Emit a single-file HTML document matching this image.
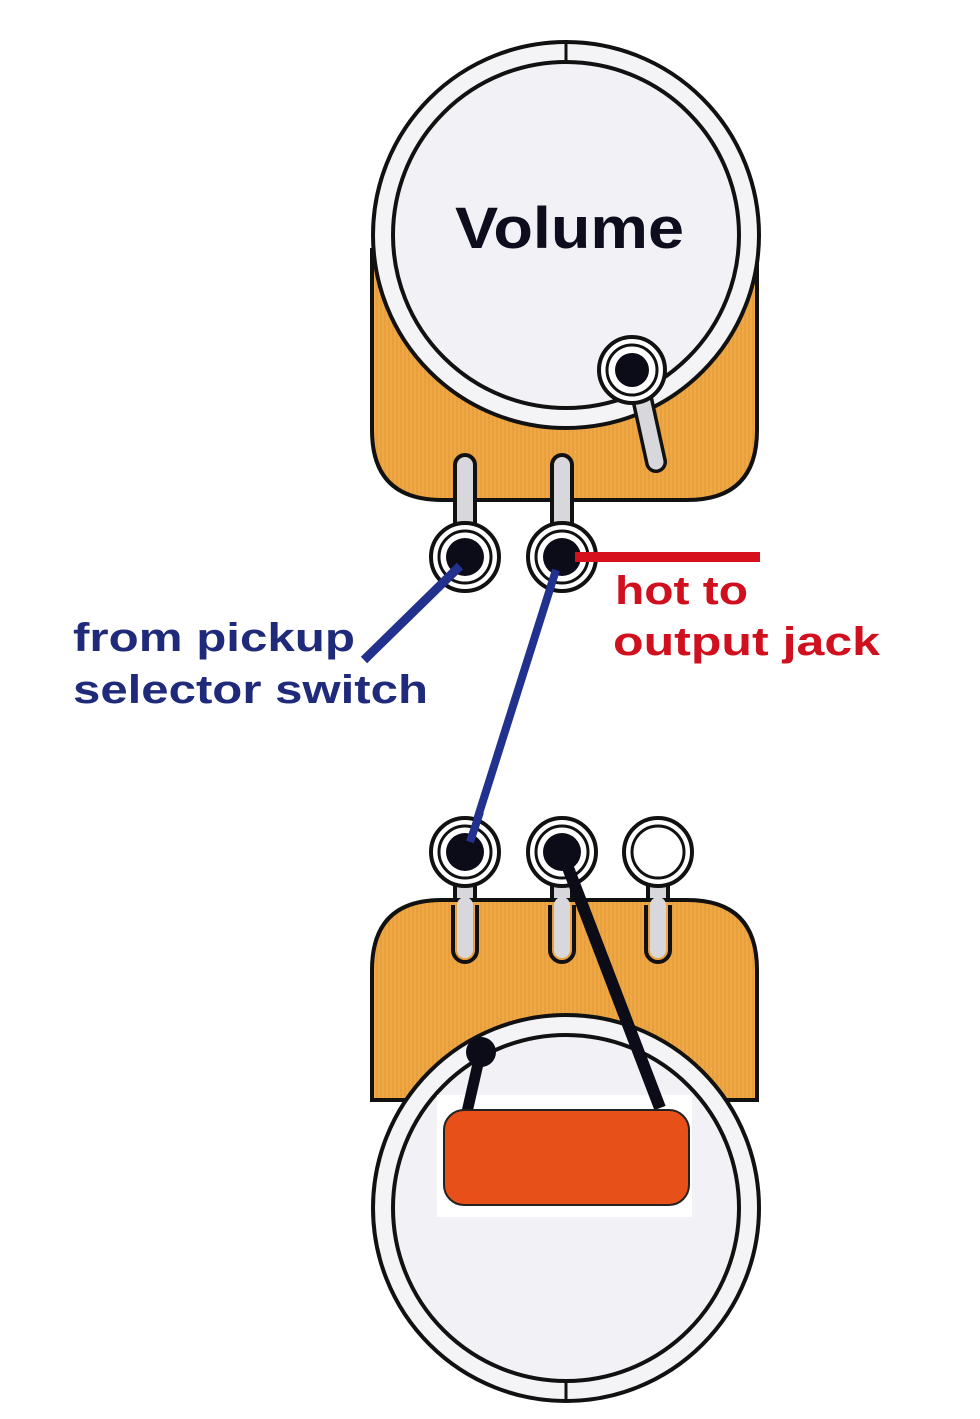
<!DOCTYPE html>
<html><head><meta charset="utf-8"><style>
html,body{margin:0;padding:0;background:#fff;}
svg{display:block}
</style></head><body>
<svg width="980" height="1419" viewBox="0 0 980 1419" xmlns="http://www.w3.org/2000/svg">
<defs>
<pattern id="tex" width="4" height="4" patternUnits="userSpaceOnUse">
<rect width="4" height="4" fill="#efa846"/><rect width="2" height="4" fill="#e9a03c"/>
</pattern>
</defs>
<!-- TOP POT -->
<path d="M372 250 L757 250 L757 430 Q757 500 687 500 L442 500 Q372 500 372 430 Z" fill="url(#tex)" stroke="#111" stroke-width="4"/>
<circle cx="566" cy="235" r="193" fill="#f4f4f7" stroke="#111" stroke-width="4"/>
<circle cx="566" cy="235" r="173" fill="#f2f2f6" stroke="#111" stroke-width="4"/>
<line x1="566" y1="42" x2="566" y2="62" stroke="#111" stroke-width="3"/>
<text x="455" y="248" textLength="229" lengthAdjust="spacingAndGlyphs" font-family="Liberation Sans, sans-serif" font-weight="bold" font-size="58" fill="#0d0d1e">Volume</text>
<!-- wiper lug -->
<line x1="638" y1="380" x2="656" y2="462" stroke="#111" stroke-width="22" stroke-linecap="round"/>
<line x1="638" y1="380" x2="656" y2="462" stroke="#d8d8dc" stroke-width="15" stroke-linecap="round"/>
<circle cx="632" cy="370" r="33" fill="#fff" stroke="#111" stroke-width="4"/>
<circle cx="632" cy="370" r="25" fill="#fff" stroke="#111" stroke-width="3"/>
<circle cx="632" cy="370" r="17" fill="#0c0c18"/>
<!-- bottom lugs -->
<g>
<line x1="465" y1="465" x2="465" y2="535" stroke="#111" stroke-width="24" stroke-linecap="round"/>
<line x1="465" y1="465" x2="465" y2="535" stroke="#d8d8dc" stroke-width="16" stroke-linecap="round"/>
<line x1="562" y1="465" x2="562" y2="535" stroke="#111" stroke-width="24" stroke-linecap="round"/>
<line x1="562" y1="465" x2="562" y2="535" stroke="#d8d8dc" stroke-width="16" stroke-linecap="round"/>
<circle cx="465" cy="557" r="34" fill="#fff" stroke="#111" stroke-width="4"/>
<circle cx="465" cy="557" r="26" fill="#fff" stroke="#111" stroke-width="3"/>
<circle cx="465" cy="557" r="19" fill="#0c0c18"/>
<circle cx="562" cy="557" r="34" fill="#fff" stroke="#111" stroke-width="4"/>
<circle cx="562" cy="557" r="26" fill="#fff" stroke="#111" stroke-width="3"/>
<circle cx="562" cy="557" r="19" fill="#0c0c18"/>
</g>
<line x1="575" y1="557" x2="760" y2="557" stroke="#d7101e" stroke-width="10"/>
<line x1="460" y1="566" x2="364" y2="660" stroke="#22308e" stroke-width="9"/>
<line x1="556" y1="570" x2="470" y2="842" stroke="#22308e" stroke-width="8"/>
<g font-family="Liberation Sans, sans-serif" font-weight="bold" font-size="40" lengthAdjust="spacingAndGlyphs">
<text x="73" y="651" textLength="282" lengthAdjust="spacingAndGlyphs" fill="#1f2a7a">from pickup</text>
<text x="73" y="703" textLength="355" lengthAdjust="spacingAndGlyphs" fill="#1f2a7a">selector switch</text>
<text x="615" y="604" textLength="133" lengthAdjust="spacingAndGlyphs" fill="#d0101e">hot to</text>
<text x="613" y="655" textLength="267" lengthAdjust="spacingAndGlyphs" fill="#d0101e">output jack</text>
</g>
<!-- BOTTOM POT -->
<g>
<line x1="465" y1="880" x2="465" y2="950" stroke="#111" stroke-width="24" stroke-linecap="round"/>
<line x1="465" y1="880" x2="465" y2="950" stroke="#d8d8dc" stroke-width="16" stroke-linecap="round"/>
<line x1="562" y1="880" x2="562" y2="950" stroke="#111" stroke-width="24" stroke-linecap="round"/>
<line x1="562" y1="880" x2="562" y2="950" stroke="#d8d8dc" stroke-width="16" stroke-linecap="round"/>
<line x1="658" y1="880" x2="658" y2="950" stroke="#111" stroke-width="24" stroke-linecap="round"/>
<line x1="658" y1="880" x2="658" y2="950" stroke="#d8d8dc" stroke-width="16" stroke-linecap="round"/>
</g>
<path d="M372 1100 L372 970 Q372 900 442 900 L687 900 Q757 900 757 970 L757 1100 Z" fill="url(#tex)" stroke="#111" stroke-width="4"/>
<g>
<line x1="465" y1="905" x2="465" y2="950" stroke="#d8d8dc" stroke-width="16" stroke-linecap="round"/>
<line x1="562" y1="905" x2="562" y2="950" stroke="#d8d8dc" stroke-width="16" stroke-linecap="round"/>
<line x1="658" y1="905" x2="658" y2="950" stroke="#d8d8dc" stroke-width="16" stroke-linecap="round"/>
<path d="M453 905 L453 950 A12 12 0 0 0 477 950 L477 905 M550 905 L550 950 A12 12 0 0 0 574 950 L574 905 M646 905 L646 950 A12 12 0 0 0 670 950 L670 905" fill="none" stroke="#111" stroke-width="4"/>
</g>
<circle cx="566" cy="1208" r="193" fill="#f4f4f7" stroke="#111" stroke-width="4"/>
<circle cx="566" cy="1208" r="173" fill="#f2f2f6" stroke="#111" stroke-width="4"/>
<line x1="566" y1="1381" x2="566" y2="1401" stroke="#111" stroke-width="3"/>
<rect x="437" y="1095" width="255" height="122" fill="#fff"/>
<circle cx="465" cy="852" r="34" fill="#fff" stroke="#111" stroke-width="4"/>
<circle cx="465" cy="852" r="26" fill="#fff" stroke="#111" stroke-width="3"/>
<circle cx="465" cy="852" r="19" fill="#0c0c18"/>
<circle cx="562" cy="852" r="34" fill="#fff" stroke="#111" stroke-width="4"/>
<circle cx="562" cy="852" r="26" fill="#fff" stroke="#111" stroke-width="3"/>
<circle cx="562" cy="852" r="19" fill="#0c0c18"/>
<circle cx="658" cy="852" r="34" fill="#fff" stroke="#111" stroke-width="4"/>
<circle cx="658" cy="852" r="26" fill="#fff" stroke="#111" stroke-width="3"/>
<line x1="470" y1="842" x2="480" y2="812" stroke="#22308e" stroke-width="8"/>
<line x1="562" y1="852" x2="660" y2="1108" stroke="#0c0c18" stroke-width="12"/>
<line x1="480" y1="1055" x2="467" y2="1112" stroke="#0c0c18" stroke-width="11"/>
<circle cx="481" cy="1052" r="15" fill="#0c0c18"/>
<rect x="444" y="1110" width="245" height="95" rx="20" fill="#e8501a" stroke="#222" stroke-width="2"/>
</svg>
</body></html>
